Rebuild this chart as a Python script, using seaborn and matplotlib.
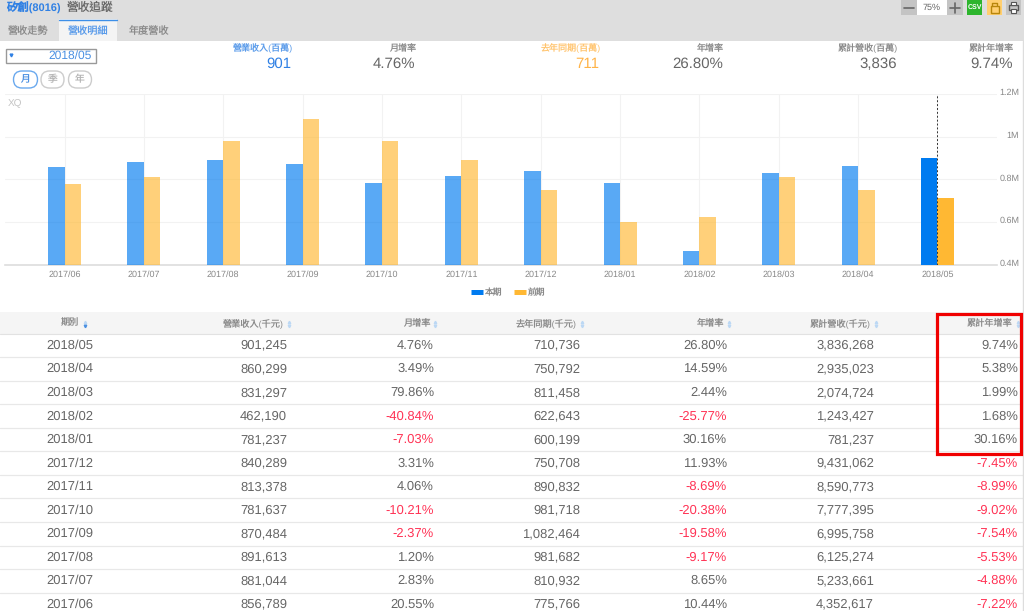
import pandas as pd
import numpy as np
import matplotlib
matplotlib.use('Agg')
import matplotlib.pyplot as plt
import matplotlib.transforms as mtrans
import seaborn as sns
from matplotlib.patches import Rectangle, FancyBboxPatch
from matplotlib.lines import Line2D

# table values, newest month first
periods = ['2018/05', '2018/04', '2018/03', '2018/02', '2018/01', '2017/12',
           '2017/11', '2017/10', '2017/09', '2017/08', '2017/07', '2017/06']
revenue = [901245, 860299, 831297, 462190, 781237, 840289,
           813378, 781637, 870484, 891613, 881044, 856789]
mom = [4.76, 3.49, 79.86, -40.84, -7.03, 3.31, 4.06, -10.21, -2.37, 1.20, 2.83, 20.55]
last_year = [710736, 750792, 811458, 622643, 600199, 750708,
             890832, 981718, 1082464, 981682, 810932, 775766]
yoy = [26.80, 14.59, 2.44, -25.77, 30.16, 11.93, -8.69, -20.38, -19.58, -9.17, 8.65, 10.44]
cumulative = [3836268, 2935023, 2074724, 1243427, 781237, 9431062,
              8590773, 7777395, 6995758, 6125274, 5233661, 4352617]
cum_yoy = [9.74, 5.38, 1.99, 1.68, 30.16, -7.45, -8.99, -9.02, -7.54, -5.53, -4.88, -7.22]

headers = ['期別', '營業收入(千元)', '月增率', '去年同期(千元)', '年增率', '累計營收(千元)', '累計年增率']
tabs = ['營收走勢', '營收明細', '年度營收']
summary_labels = ['營業收入(百萬)', '月增率', '去年同期(百萬)', '年增率', '累計營收(百萬)', '累計年增率']
summary_values = ['901', '4.76%', '711', '26.80%', '3,836', '9.74%']
y_ticks = [400000, 600000, 800000, 1000000, 1200000]
y_tick_labels = ['0.4M', '0.6M', '0.8M', '1M', '1.2M']

BLUE = '#007bf0'
ORANGE = '#ffb833'
GREY = '#666666'
LIGHT_GREY = '#8a8a8a'
RED = '#ff3355'
FONT = ['Liberation Sans', 'Noto Sans CJK TC', 'DejaVu Sans']
W, H = 1024, 611

sns.set_theme(style='white')
plt.rcParams['font.family'] = FONT
plt.rcParams['text.hinting'] = 'none'
plt.rcParams['text.hinting_factor'] = 1

fig = plt.figure(figsize=(W / 100, H / 100), dpi=100, facecolor='white')

# page furniture, drawn in pixel coordinates
ui = fig.add_axes([0, 0, 1, 1])
ui.set_xlim(0, W)
ui.set_ylim(H, 0)
ui.axis('off')

ui.add_patch(Rectangle((0, 0), W, 41, fc='#dedede', ec='none'))
ui.add_patch(Rectangle((59, 19), 58, 22, fc='#f4f4f4', ec='none'))
ui.plot([59, 117], [19.5, 19.5], color='#3d8fe8', lw=1)
ui.text(6, 7.5, '矽創(8016)', color='#2f80e4', fontsize=8.2, fontweight='bold', va='center')
ui.text(67, 7.5, '營收追蹤', color=GREY, fontsize=8.4, va='center')
for tab_x, tab in zip([28, 88, 149.5], tabs):
    ui.text(tab_x, 31.5, tab, color='#5a9bea' if tab == '營收明細' else LIGHT_GREY,
            fontsize=7.3, ha='center', va='center')

# toolbar at the top right
ui.add_patch(Rectangle((901, 0), 16, 15, fc='#c4c4c4', ec='none'))
ui.add_patch(Rectangle((917, 0), 30, 15, fc='white', ec='none'))
ui.add_patch(Rectangle((947, 0), 16, 15, fc='#c4c4c4', ec='none'))
ui.plot([904, 914], [7.5, 7.5], color='#666666', lw=1.2)
ui.plot([950, 960], [7.5, 7.5], color='#666666', lw=1.2)
ui.plot([955, 955], [2.5, 12.5], color='#666666', lw=1.2)
ui.text(932, 7.5, '75%', color=GREY, fontsize=6.4, ha='center', va='center')
ui.add_patch(Rectangle((967, 0), 15, 15, fc='#2db52d', ec='none'))
ui.text(974.5, 7.5, 'CSV', color='white', fontsize=5, fontweight='bold', ha='center', va='center')
ui.add_patch(Rectangle((987, 0), 15, 15, fc='#ffcf70', ec='none'))
ui.add_patch(Rectangle((990.5, 6), 8, 7, fc='none', ec='#b8860b', lw=1))
ui.plot([992, 992, 997, 997], [6, 2.5, 2.5, 4.5], color='#b8860b', lw=1)
ui.add_patch(Rectangle((1006, 0), 15, 15, fc='#c4c4c4', ec='none'))
ui.add_patch(Rectangle((1009, 5), 9, 5, fc='none', ec='#555555', lw=1))
ui.add_patch(Rectangle((1011, 2), 5, 3, fc='white', ec='#555555', lw=0.8))
ui.add_patch(Rectangle((1011, 9), 5, 4, fc='white', ec='#555555', lw=0.8))

# date selector and month/season/year buttons
ui.add_patch(Rectangle((6, 49), 90, 14, fc='white', ec='#999999', lw=1))
ui.plot([11], [55], marker='v', ms=2, color='#2f80e4')
ui.text(92, 55.5, periods[0], color='#4a90e2', fontsize=8.9, ha='right', va='center')
for btn_x, btn_w, btn, active in zip([25.5, 52.5, 80], [24, 23, 23], ['月', '季', '年'], [True, False, False]):
    ui.add_patch(FancyBboxPatch((btn_x - btn_w / 2, 71), btn_w, 17,
                                boxstyle='round,pad=0,rounding_size=8.5',
                                fc='white', ec='#6aa9ee' if active else '#cccccc', lw=1))
    ui.text(btn_x, 79.5, btn, color='#4a90e2' if active else '#b5b5b5', fontsize=7,
            ha='center', va='center')

# summary strip
label_right = [293, 416, 601, 724, 898, 1014]
value_right = [291, 415, 599, 723, 897, 1013]
label_colors = ['#5a9bea', LIGHT_GREY, '#ffc46e', LIGHT_GREY, LIGHT_GREY, LIGHT_GREY]
value_colors = ['#2f80e4', GREY, '#ffb347', GREY, GREY, GREY]
for lx, vx, lab, val, lc, vc in zip(label_right, value_right, summary_labels, summary_values,
                                    label_colors, value_colors):
    ui.text(lx, 48.5, lab, color=lc, fontsize=6.5, ha='right', va='center')
    ui.text(vx, 64, val, color=vc, fontsize=11, ha='right', va='center')

ui.text(8, 104, 'XQ', color='#c4c4c4', fontsize=7.2, va='center')

# table
column_right = [None, 287, 434, 580, 727, 874, 1018]
header_right = [None, 284, 430, 577, 724, 871, 1013]
ui.add_patch(Rectangle((0, 312), W, 22, fc='#f5f5f5', ec='none'))
ui.plot([0, W], [334, 334], color='#e2e2e2', lw=0.8)
ui.text(70, 323, headers[0], color=LIGHT_GREY, fontsize=6.6, ha='center', va='center')
ui.plot([84.5], [321.5], marker='^', ms=1.8, color='#bcd8f4')
ui.plot([84.5], [325.5], marker='v', ms=1.8, color='#4a90e2')
for right, head in zip(header_right[1:], headers[1:]):
    ui.text(right, 323, head, color=LIGHT_GREY, fontsize=6.6, ha='right', va='center')
    ui.plot([right + 5], [321.5], marker='^', ms=1.8, color='#bcd8f4')
    ui.plot([right + 5], [325.5], marker='v', ms=1.8, color='#bcd8f4')


def pct_cell(value):
    return f'{value:.2f}%', (RED if value < 0 else GREY)


row_h = 23.55
for i, period in enumerate(periods):
    yc = 345.4 + i * row_h
    ui.plot([0, W], [yc + row_h / 2, yc + row_h / 2], color='#e8e8e8', lw=0.9)
    cells = [(f'{revenue[i]:,}', GREY), pct_cell(mom[i]), (f'{last_year[i]:,}', GREY),
             pct_cell(yoy[i]), (f'{cumulative[i]:,}', GREY), pct_cell(cum_yoy[i])]
    ui.text(70, yc, period, color=GREY, fontsize=9.1, ha='center', va='center')
    for right, (txt, col) in zip(column_right[1:], cells):
        ui.text(right, yc, txt, color=col, fontsize=9.1, ha='right', va='center')

ui.add_patch(Rectangle((936.5, 313.5), 84, 140, fc='none', ec='#f00000', lw=2.3, zorder=5))
ui.plot([1022.5, 1022.5], [41, H], color='#dddddd', lw=1)

# chart: oldest month on the left
chart_left, chart_right, chart_top, chart_bottom = 5, 997, 94, 264.5
ax = fig.add_axes([chart_left / W, 1 - chart_bottom / H,
                   (chart_right - chart_left) / W, (chart_bottom - chart_top) / H])
ax.patch.set_alpha(0)

months = periods[::-1]
df = pd.DataFrame({
    'month': months * 2,
    'value': revenue[::-1] + last_year[::-1],
    'series': ['本期'] * 12 + ['前期'] * 12,
})
sns.barplot(data=df, x='month', y='value', hue='series', order=months,
            palette={'本期': BLUE, '前期': ORANGE}, width=0.415, gap=0,
            saturation=1, legend=False, ax=ax, zorder=3)

# older months are faded, only the selected month is solid
for container in ax.containers:
    for bar in container.patches[:-1]:
        bar.set_alpha(0.65)
    for bar in container.patches:
        bar.set_edgecolor('none')

ax.set_xlim(-0.75, 11.75)
ax.set_ylim(400000, 1200000)
ax.set_xlabel('')
ax.set_ylabel('')
ax.set_yticks(y_ticks)
ax.set_yticklabels(y_tick_labels, ha='right')
ax.yaxis.tick_right()
ax.tick_params(axis='y', length=0, pad=16, labelsize=6.3, labelcolor='#888888')
ax.tick_params(axis='x', length=0, pad=4, labelsize=6.3, labelcolor='#888888')
ax.grid(True, color='#f2f2f2', lw=0.8, zorder=0)
ax.set_axisbelow(True)
sns.despine(ax=ax, left=True, right=True, top=True)
ax.spines['bottom'].set_color('#dddddd')
ax.spines['bottom'].set_linewidth(1.2)

# y labels sit a little above their gridlines
up = mtrans.ScaledTranslation(0, 2 / 100, fig.dpi_scale_trans)
for label in ax.get_yticklabels():
    label.set_transform(label.get_transform() + up)

# dashed marker on the selected month
ax.axvline(len(months) - 1, color='#333333', lw=0.7, ls=(0, (2, 2)), zorder=6)

handles = [Line2D([0], [0], color=BLUE, lw=3.6, solid_capstyle='butt'),
           Line2D([0], [0], color=ORANGE, lw=3.6, solid_capstyle='butt')]
fig.legend(handles, ['本期', '前期'], loc='center', bbox_to_anchor=(508.5 / W, 1 - 293 / H), ncol=2,
           frameon=False, fontsize=6.3, labelcolor='#888888', handlelength=1.35,
           handletextpad=0.25, columnspacing=1.3)

fig.savefig('out.png', dpi=100)
